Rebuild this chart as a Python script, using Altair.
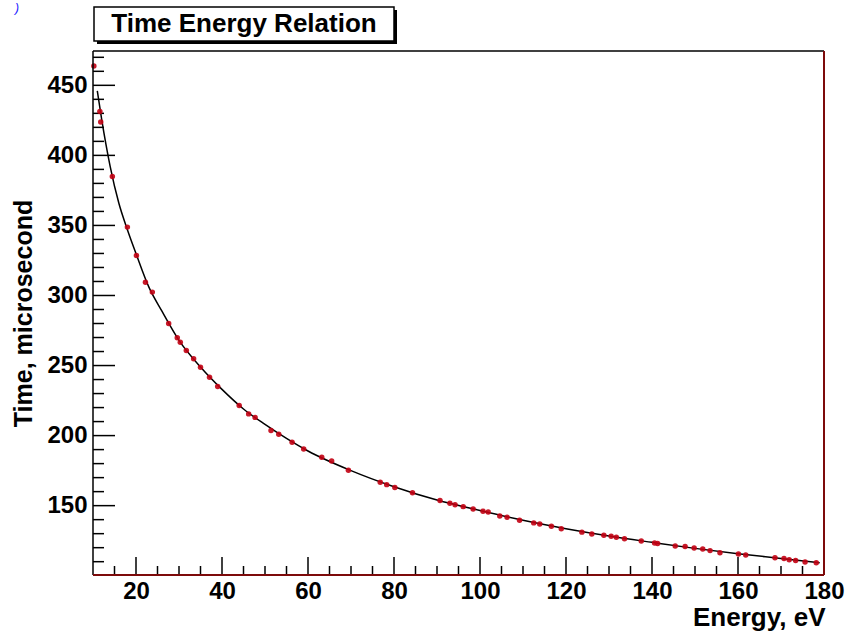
import altair as alt
import pandas as pd

# ---- data ----
energy = [10.2, 11.6, 11.8, 14.5, 18.0, 20.1, 22.2, 23.8, 27.6, 29.6, 30.3, 31.7,
          33.4, 35.0, 37.1, 39.0, 44.0, 46.2, 47.7, 51.4, 53.2, 56.3, 59.0, 63.2,
          65.5, 69.4, 76.8, 78.3, 80.2, 84.3, 90.7, 93.0, 94.2, 96.1, 98.4, 100.7,
          101.9, 104.6, 106.3, 109.2, 112.5, 113.9, 116.6, 118.9, 123.7, 126.0,
          128.8, 130.5, 131.7, 133.6, 137.5, 140.6, 141.3, 145.4, 147.7, 149.8,
          151.8, 153.5, 155.8, 160.1, 161.8, 168.6, 170.7, 171.9, 173.4, 175.6, 178.2]
time_us = [463.8, 431.4, 423.8, 385.0, 348.8, 328.6, 309.5, 302.4, 280.0, 269.8, 266.7, 260.7,
           254.8, 248.8, 241.7, 235.0, 221.4, 215.5, 213.0, 203.6, 201.0, 195.2, 190.5, 184.5,
           181.8, 175.3, 166.7, 165.0, 163.0, 159.2, 153.6, 151.7, 150.7, 149.3, 147.6, 146.0,
           145.5, 142.6, 141.7, 139.6, 137.7, 136.9, 135.3, 133.5, 131.1, 129.8,
           128.9, 128.2, 127.4, 126.4, 124.8, 123.3, 123.0, 121.2, 120.8, 119.7,
           119.1, 117.9, 116.4, 115.5, 114.7, 112.8, 112.2, 111.4, 110.9, 109.8, 109.3]

fit_energy = [11, 12, 14, 16, 18, 20, 23, 26, 30, 35, 40, 45, 50, 55, 60, 70, 80, 90,
              100, 110, 120, 130, 140, 150, 160, 170, 179]
fit_time = [446, 426, 392, 366, 347, 330, 306, 289, 268, 249, 233, 219, 208, 198, 189,
            175, 163.5, 154, 146.5, 139.5, 133.5, 128.3, 123.8, 119.5, 115.7, 112.3, 109.2]

x_major = [20, 40, 60, 80, 100, 120, 140, 160, 180]
x_minor = [15, 25, 30, 35, 45, 50, 55, 65, 70, 75, 85, 90, 95, 105, 110, 115,
           125, 130, 135, 145, 150, 155, 165, 170, 175]
y_major = [150, 200, 250, 300, 350, 400, 450]
y_minor = [110, 120, 130, 140, 160, 170, 180, 190, 210, 220, 230, 240, 260, 270, 280, 290,
           310, 320, 330, 340, 360, 370, 380, 390, 410, 420, 430, 440, 460, 470]

title_text = "Time Energy Relation"
x_title = "Energy, eV"
y_title = "Time, microsecond"

# ---- layout ----
W, H = 731, 524
FONT = "Liberation Sans"
DARKRED = "#7d0a0a"

xs = alt.Scale(domain=[10, 180], nice=False, zero=False)
ys = alt.Scale(domain=[100.5, 474.5], nice=False, zero=False)

pts_df = pd.DataFrame({"E": energy, "T": time_us})
fit_df = pd.DataFrame({"E": fit_energy, "T": fit_time})
one = pd.DataFrame({"a": [0]})

x_axis = alt.Axis(values=x_major, title=x_title, grid=False, ticks=False, domain=False,
                  labelFont=FONT, labelFontSize=24, labelFontWeight="bold", labelColor="black",
                  labelPadding=4, labelFlush=False, labelOverlap=False,
                  titleFont=FONT, titleFontSize=26, titleFontWeight="bold", titleColor="black",
                  titleX=732, titleY=50, titleAlign="right", titleBaseline="alphabetic")
y_axis = alt.Axis(values=y_major, title=y_title, grid=False, ticks=False, domain=False,
                  labelFont=FONT, labelFontSize=24, labelFontWeight="bold", labelColor="black",
                  labelPadding=6, labelFlush=False, labelOverlap=False,
                  titleFont=FONT, titleFontSize=25, titleFontWeight="bold", titleColor="black",
                  titleX=-70, titleY=262, titleAngle=270, titleAlign="center",
                  titleBaseline="middle")

def X(field):
    return alt.X(field, scale=xs, axis=x_axis)

def Y(field):
    return alt.Y(field, scale=ys, axis=y_axis)

fit_line = alt.Chart(fit_df).mark_line(color="black", strokeWidth=1.5, interpolate="monotone").encode(
    x=X("E:Q"), y=Y("T:Q"))

points = alt.Chart(pts_df).mark_point(filled=True, shape="circle", size=30, color="#c20012",
                                      opacity=0.9).encode(x=X("E:Q"), y=Y("T:Q"))

# inward ticks
xmaj = alt.Chart(pd.DataFrame({"E": x_major})).mark_rule(color="black", strokeWidth=1.5).encode(
    x=X("E:Q"), y=alt.value(H), y2=alt.value(H - 18))
xmin = alt.Chart(pd.DataFrame({"E": x_minor})).mark_rule(color="black", strokeWidth=1.5).encode(
    x=X("E:Q"), y=alt.value(H), y2=alt.value(H - 9))
ymaj = alt.Chart(pd.DataFrame({"T": y_major})).mark_rule(color="black", strokeWidth=1.5).encode(
    y=Y("T:Q"), x=alt.value(0), x2=alt.value(22))
ymin = alt.Chart(pd.DataFrame({"T": y_minor})).mark_rule(color="black", strokeWidth=1.5).encode(
    y=Y("T:Q"), x=alt.value(0), x2=alt.value(11))

# frame
left_b = alt.Chart(one).mark_rule(color="black", strokeWidth=1.5).encode(
    x=alt.value(0), y=alt.value(0), y2=alt.value(H))
top_b = alt.Chart(one).mark_rule(color="black", strokeWidth=1.5).encode(
    x=alt.value(0), x2=alt.value(W), y=alt.value(0))
bot_b = alt.Chart(one).mark_rule(color=DARKRED, strokeWidth=2).encode(
    x=alt.value(0), x2=alt.value(W), y=alt.value(H))
right_b = alt.Chart(one).mark_rule(color=DARKRED, strokeWidth=2).encode(
    x=alt.value(W), y=alt.value(0), y2=alt.value(H))

# title box (ROOT style with shadow)
shadow = alt.Chart(one).mark_rect(color="black").encode(
    x=alt.value(4), x2=alt.value(304), y=alt.value(-41), y2=alt.value(-7))
box = alt.Chart(one).mark_rect(fill="white", stroke="black", strokeWidth=1.5).encode(
    x=alt.value(1), x2=alt.value(301), y=alt.value(-44), y2=alt.value(-10))
title = alt.Chart(one).mark_text(font=FONT, fontSize=26, fontWeight="bold", color="black",
                                 align="center", baseline="alphabetic").encode(
    x=alt.value(151), y=alt.value(-19), text=alt.value(title_text))

blue = alt.Chart(one).mark_text(font=FONT, fontSize=12, fontStyle="italic", color="#1a1aff",
                                align="left", baseline="alphabetic").encode(
    x=alt.value(-78), y=alt.value(-39), text=alt.value(")"))

chart = alt.layer(
    fit_line, xmin, xmaj, ymin, ymaj, points, left_b, top_b, bot_b, right_b,
    shadow, box, title, blue
).properties(
    width=W, height=H,
    autosize=alt.AutoSizeParams(type="none"),
    padding={"left": 93, "top": 51, "right": 23, "bottom": 57},
    background="white",
).configure_view(stroke=None)

chart.save("out.html", embed_options={"renderer": "svg", "actions": False})
